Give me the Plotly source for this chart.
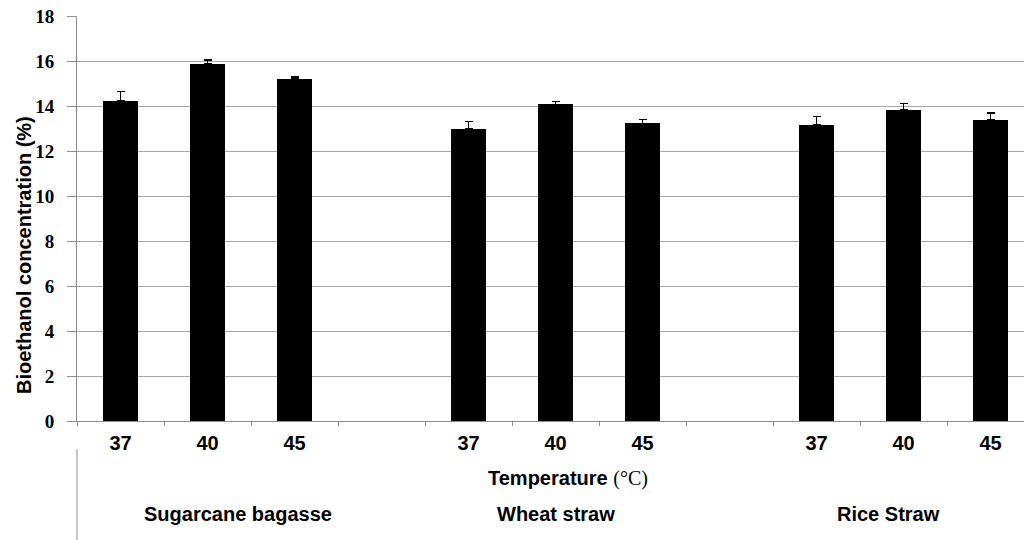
import plotly.graph_objects as go

groups = ["Sugarcane bagasse", "Wheat straw", "Rice Straw"]
temperatures = ["37", "40", "45"]
sugarcane_values = [14.22, 15.87, 15.19]
sugarcane_errors = [0.43, 0.18, 0.09]
wheat_values = [12.98, 14.07, 13.23]
wheat_errors = [0.34, 0.14, 0.18]
rice_values = [13.16, 13.82, 13.38]
rice_errors = [0.38, 0.30, 0.31]
y_ticks = list(range(0, 20, 2))

all_values = [sugarcane_values, wheat_values, rice_values]
all_errors = [sugarcane_errors, wheat_errors, rice_errors]

xs, ys, es, labels = [], [], [], []
for g, (vals, errs) in enumerate(zip(all_values, all_errors)):
    for t, (v, e) in enumerate(zip(vals, errs)):
        xs.append(g * 4 + t)
        ys.append(v)
        es.append(e)
        labels.append(temperatures[t])

fig = go.Figure()
fig.add_trace(go.Bar(
    x=xs, y=ys, width=0.4,
    marker=dict(color="black", line=dict(width=0)),
    error_y=dict(type="data", array=es, symmetric=False, arrayminus=[0] * len(es),
                 color="black", thickness=1.5, width=4),
    showlegend=False,
))

# plot area at page x 77..1024, y 16..421 (body margin removed via post_script)
W, H = 1024, 540
L, R, T, B = 77, 0, 16, 540 - 421
pw, ph = W - L - R, H - T - B


def px(xp):
    return (xp - L) / pw


def py(yp):
    return (H - B - yp) / ph


fig.update_layout(
    width=W, height=H,
    margin=dict(l=L, r=R, t=T, b=B, autoexpand=False),
    paper_bgcolor="white", plot_bgcolor="white",
    bargap=0,
    xaxis=dict(
        range=[-0.5, -0.5 + pw / 87.0],
        tickmode="array", tickvals=xs, ticktext=labels,
        ticks="", showgrid=False, zeroline=False, automargin=False,
        showline=True, linecolor="#8c8c8c", linewidth=1,
        tickfont=dict(family="Liberation Sans, Arial", size=20, color="black", weight="bold"),
        ticklabelstandoff=4, ticklabeloverflow="allow",
        minor=dict(tickmode="array", tickvals=[k - 0.5 for k in range(12)],
                   ticks="outside", ticklen=4, tickcolor="#8c8c8c", showgrid=False),
    ),
    yaxis=dict(
        range=[0, 18], tickmode="array", tickvals=y_ticks, automargin=False,
        showgrid=True, gridcolor="#a6a6a6", gridwidth=1,
        zeroline=False, showline=True, linecolor="#8c8c8c", linewidth=1,
        ticks="outside", ticklen=9, tickcolor="#8c8c8c",
        tickfont=dict(family="Liberation Serif, Times New Roman", size=19, color="black", weight="bold"),
        ticklabelstandoff=9, ticklabeloverflow="allow",
    ),
    shapes=[dict(type="line", xref="paper", yref="paper", x0=0, x1=0,
                 y0=py(449), y1=py(540), line=dict(color="#8c8c8c", width=1))],
)

sans = "Liberation Sans, Arial"
ann_font = dict(family=sans, size=20, color="black", weight="bold")
fig.add_annotation(x=px(24), y=py(255), xref="paper", yref="paper",
                   text="Bioethanol concentration (%)", textangle=-90,
                   showarrow=False, font=ann_font, xanchor="center", yanchor="middle")
fig.add_annotation(x=px(568), y=py(478), xref="paper", yref="paper",
                   text="Temperature <span style='font-family:Liberation Serif;font-weight:normal'>(°C)</span>",
                   showarrow=False, font=ann_font, xanchor="center", yanchor="middle")
group_x = [238, 556, 888]
for name, gx in zip(groups, group_x):
    fig.add_annotation(x=px(gx), y=py(514), xref="paper", yref="paper", text=name,
                       showarrow=False, font=ann_font, xanchor="center", yanchor="middle")

fig.write_html("out.html", config={"displayModeBar": False},
               post_script="document.body.style.margin='0';")
